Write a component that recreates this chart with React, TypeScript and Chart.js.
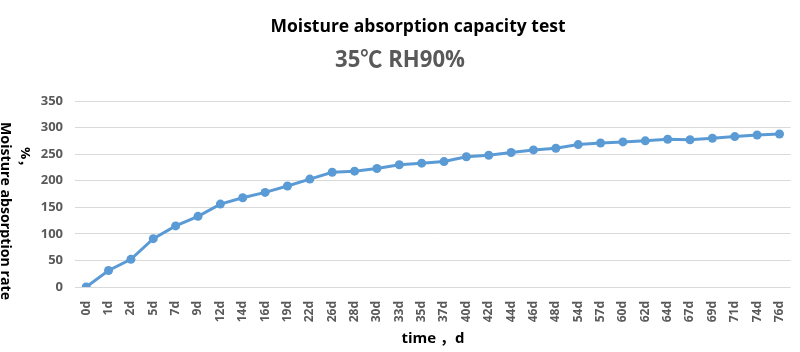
import React, { useEffect, useRef } from "react";
import { Chart, registerables } from "chart.js";

Chart.register(...registerables);

const categories = ["0d","1d","2d","5d","7d","9d","12d","14d","16d","19d","22d","26d","28d","30d","33d","35d","37d","40d","42d","44d","46d","48d","54d","57d","60d","62d","64d","67d","69d","71d","74d","76d"];
const rates = [0,31,52,91,115,133,156,168,178,190,203,216,218,223,230,233,236,245,248,253,258,261,268,271,273,275,278,277,280,283,286,288];
const yTicks = [0,50,100,150,200,250,300,350];

const titleText = "Moisture absorption capacity test";
const subtitleText = "35℃ RH90%";
const xTitleText = "time ，d";
const yTitleText = "Moisture absorption rate";
const yTitleUnit = "%，";

const FONT = "'Open Sans', 'Noto Sans CJK SC', sans-serif";

function drawFit(ctx: CanvasRenderingContext2D, text: string, cx: number, cy: number, font: string, color: string, targetW: number, rot = 0) {
  ctx.save();
  ctx.font = font;
  ctx.fillStyle = color;
  ctx.textAlign = "center";
  ctx.textBaseline = "middle";
  const w = ctx.measureText(text).width;
  ctx.translate(cx, cy);
  ctx.rotate(rot);
  ctx.scale(targetW / w, 1);
  ctx.fillText(text, 0, 0);
  ctx.restore();
}

const textPlugin = {
  id: "customText",
  afterDraw(chart: any) {
    const ctx = chart.ctx as CanvasRenderingContext2D;
    drawFit(ctx, titleText, 418, 27, `bold 18px ${FONT}`, "#000000", 295);
    drawFit(ctx, subtitleText, 400, 60, `bold 23px ${FONT}`, "#595959", 130);
    drawFit(ctx, xTitleText, 433, 339, `bold 14px ${FONT}`, "#000000", 63);
    drawFit(ctx, yTitleText, 5, 211, `bold 14px ${FONT}`, "#000000", 178, Math.PI / 2);
    drawFit(ctx, yTitleUnit, 25, 160, `bold 13px ${FONT}`, "#000000", 26, Math.PI / 2);
  },
};

export default function App() {
  const ref = useRef<HTMLCanvasElement>(null);
  useEffect(() => {
    if (!ref.current) return;
    const chart = new Chart(ref.current, {
      type: "line",
      data: {
        labels: categories,
        datasets: [
          {
            data: rates,
            borderColor: "#5b9bd5",
            backgroundColor: "#5b9bd5",
            borderWidth: 3,
            pointRadius: 4.5,
            pointBorderWidth: 0,
            pointBackgroundColor: "#5b9bd5",
            tension: 0,
          },
        ],
      },
      options: {
        animation: false,
        responsive: false,
        layout: { padding: { top: 101, right: 7, left: 0, bottom: 0 } },
        plugins: { legend: { display: false }, title: { display: false }, tooltip: { enabled: false } },
        scales: {
          x: {
            offset: true,
            grid: { display: false },
            border: { display: false },
            ticks: {
              autoSkip: false,
              maxRotation: 90,
              minRotation: 90,
              padding: 6,
              color: "#595959",
              font: { family: FONT, size: 12, weight: "bold" },
            },
            afterFit: (s: any) => { s.height = 65; },
          },
          y: {
            min: 0,
            max: 350,
            afterBuildTicks: (s: any) => { s.ticks = yTicks.map((v) => ({ value: v })); },
            grid: { color: "#d9d9d9", lineWidth: 1, drawTicks: false },
            border: { display: false },
            ticks: {
              padding: 12,
              color: "#595959",
              font: { family: FONT, size: 13, weight: "bold" },
            },
            afterFit: (s: any) => { s.width = 75; },
          },
        },
      },
      plugins: [textPlugin],
    });
    return () => chart.destroy();
  }, []);
  return (
    <div style={{ position: "fixed", left: 0, top: 0, width: 800, height: 352, background: "#fff" }}>
      <canvas ref={ref} width={800} height={352} style={{ width: 800, height: 352, display: "block" }} />
    </div>
  );
}
